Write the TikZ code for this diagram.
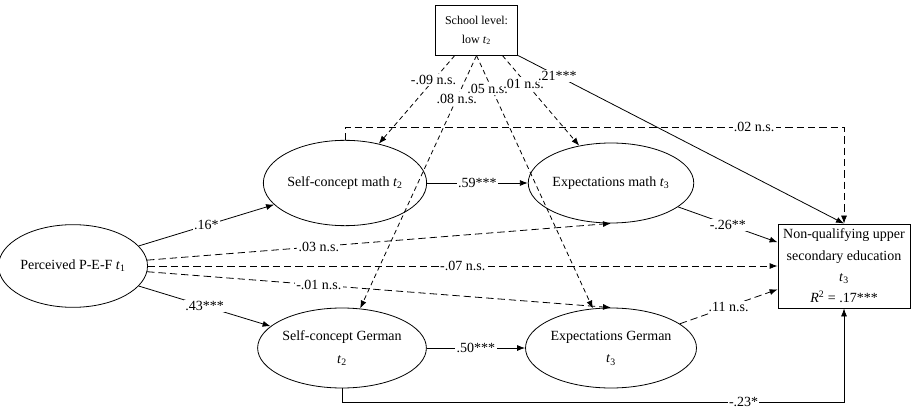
\documentclass[tikz,border=0pt]{standalone}
\usepackage{fontspec}
\setmainfont{Liberation Serif}
\usetikzlibrary{shapes.geometric,arrows.meta}
\tikzset{
  latent/.style={ellipse,draw,line width=0.6pt,inner sep=0pt,minimum width=101pt,minimum height=60pt,
    font=\fontsize{10.5}{17}\selectfont,align=center},
  obsbox/.style={rectangle,draw,line width=0.6pt,inner sep=0pt,align=center},
  arr/.style={line width=0.6pt,-{Latex[length=6pt,width=4.5pt]}},
  ns/.style={arr,dash pattern=on 5.5pt off 3pt},
  nss/.style={arr,dash pattern=on 3.5pt off 2.5pt},
  coef/.style={fill=white,inner sep=1pt,font=\fontsize{10.5}{12}\selectfont},
}
\begin{document}
\begin{tikzpicture}[x=0.75pt,y=-0.75pt]
  \useasboundingbox (0,0) rectangle (912,409);
  % constructs
  \node[latent,minimum width=99.75pt,minimum height=62pt] (pef) at (73,266) {Perceived P-E-F \textit{t}\textsubscript{1}};
  \node[latent,minimum width=104pt,minimum height=64pt] (scm) at (345,183) {Self-concept math \textit{t}\textsubscript{2}};
  \node[latent] (expm) at (611,183) {Expectations math \textit{t}\textsubscript{3}};
  \node[latent] (scg) at (342,348) {Self-concept German\\\textit{t}\textsubscript{2}};
  \node[latent,minimum width=103pt] (expg) at (611,348) {Expectations German\\\textit{t}\textsubscript{3}};
  \node[obsbox,minimum width=62pt,minimum height=37pt,font=\fontsize{9}{14}\selectfont] (school) at (476.5,30.5) {School level:\\low \textit{t}\textsubscript{2}};
  \node[obsbox,minimum width=99pt,minimum height=63pt,font=\fontsize{10.5}{16}\selectfont] (out) at (844,266)
    {Non-qualifying upper\\secondary education\\\textit{t}\textsubscript{3}\\\textit{R}\textsuperscript{2} = .17***};
  % paths from P-E-F
  \draw[arr] (pef) -- node[coef]{.16*} (scm);
  \draw[arr] (pef) -- node[coef]{.43***} (scg);
  \draw[ns] (pef) -- node[coef,pos=0.37]{.03 n.s.} (expm.south);
  \draw[ns] (pef) -- node[coef]{-.07 n.s.} (out);
  \draw[ns] (pef) -- node[coef,pos=0.37]{-.01 n.s.} (expg.north);
  % school level
  \draw[nss] (school.-131) -- node[coef,pos=0.28]{-.09 n.s.} (scm);
  \draw[nss] (school.south) -- node[coef,pos=0.17]{.08 n.s.} (scg);
  \draw[nss] (school.south) -- node[coef,pos=0.13,xshift=-3pt]{.05 n.s.} (expg);
  \draw[nss] (school.-44) -- node[coef,pos=0.31,xshift=-2pt]{.01 n.s.} (expm);
  \draw[arr] (school.south east) -- node[coef,pos=0.12]{.21***} (out.north);
  % mediators
  \draw[arr] (scm) -- node[coef]{.59***} (expm);
  \draw[arr] (scg) -- node[coef]{.50***} (expg);
  \draw[arr] (expm) -- node[coef]{-.26**} (out);
  \draw[ns] (expg) -- node[coef]{.11 n.s.} (out);
  \draw[ns] (scm.north) -- ++(0,-13) -| node[coef,pos=0.41]{.02 n.s.} (out.north);
  \draw[arr] (scg.south) -- ++(0,14) -| node[coef,pos=0.4,inner sep=0.5pt]{-.23*} (out.south);
\end{tikzpicture}
\end{document}
